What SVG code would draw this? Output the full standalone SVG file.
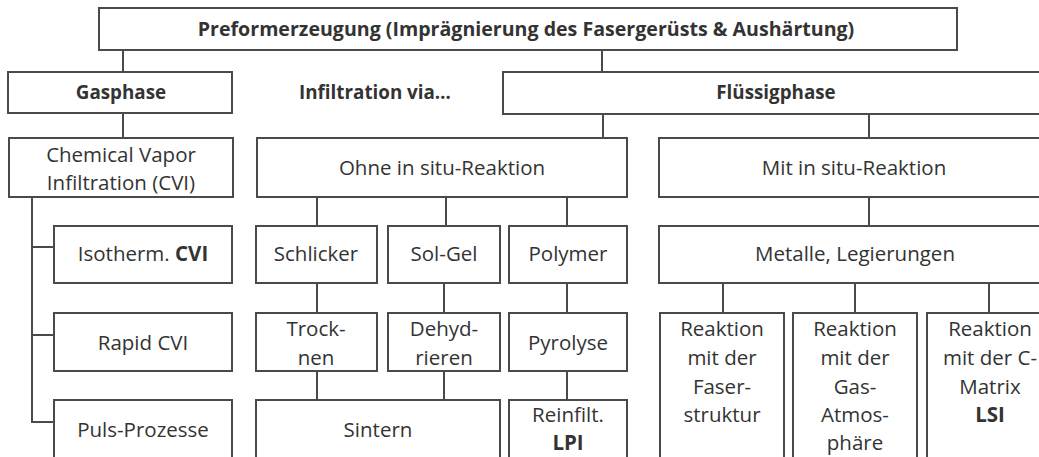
<svg xmlns="http://www.w3.org/2000/svg" width="1039" height="457" viewBox="0 0 1039 457">
<style>
rect{fill:#fff;stroke:#4a4a4a;stroke-width:2}
.c line,.c path{stroke:#4a4a4a;stroke-width:2;fill:none}
text{font-family:"Open Sans","Liberation Sans",sans-serif;font-size:20.5px;fill:#333;text-anchor:middle}
.b{font-weight:bold;font-size:18.8px}
.t{font-weight:bold;font-size:19.6px}
tspan.k{font-weight:bold}
</style>
<rect x="0" y="0" width="1039" height="457" style="stroke:none;fill:#fff"/>
<g class="c" id="connectors">
<line x1="123" y1="50" x2="123" y2="72"/>
<line x1="602" y1="50" x2="602" y2="72"/>
<line x1="123" y1="113" x2="123" y2="138"/>
<line x1="603" y1="114" x2="603" y2="138"/>
<line x1="869" y1="114" x2="869" y2="138"/>
<path d="M32 197V422H54M32 247H54M32 335H54"/>
<line x1="317" y1="197" x2="317" y2="226"/>
<line x1="446" y1="197" x2="446" y2="226"/>
<line x1="567" y1="197" x2="567" y2="226"/>
<line x1="317" y1="283" x2="317" y2="313"/>
<line x1="444" y1="283" x2="444" y2="313"/>
<line x1="567" y1="283" x2="567" y2="313"/>
<line x1="317" y1="371" x2="317" y2="400"/>
<line x1="444" y1="371" x2="444" y2="400"/>
<line x1="567" y1="371" x2="567" y2="400"/>
<line x1="869" y1="197" x2="869" y2="226"/>
<line x1="723" y1="283" x2="723" y2="313"/>
<line x1="855" y1="283" x2="855" y2="313"/>
<line x1="989" y1="283" x2="989" y2="313"/>
</g>
<g id="top"><rect x="99" y="8" width="858" height="42"/><text class="t" x="526" y="36">Preformerzeugung (Imprägnierung des Fasergerüsts &amp; Aushärtung)</text></g>
<g id="gasphase"><rect x="8" y="72" width="224" height="41"/><text class="b" x="121" y="99">Gasphase</text></g>
<g id="infiltration"><text class="b" x="375" y="99">Infiltration via…</text></g>
<g id="fluessigphase"><rect x="503" y="72" width="546" height="42"/><text class="b" x="776" y="99">Flüssigphase</text></g>
<g id="cvi"><rect x="9" y="138" width="224" height="59"/><text x="121" y="162">Chemical Vapor</text><text x="121" y="190">Infiltration (CVI)</text></g>
<g id="ohne"><rect x="257" y="138" width="370" height="59"/><text x="442" y="175">Ohne in situ-Reaktion</text></g>
<g id="mit"><rect x="659" y="138" width="390" height="59"/><text x="854" y="175">Mit in situ-Reaktion</text></g>
<g id="isotherm"><rect x="54" y="226" width="178" height="57"/><text x="143" y="261">Isotherm. <tspan class="k">CVI</tspan></text></g>
<g id="rapid"><rect x="54" y="313" width="178" height="58"/><text x="143" y="350">Rapid CVI</text></g>
<g id="puls"><rect x="54" y="400" width="178" height="70"/><text x="143" y="437">Puls-Prozesse</text></g>
<g id="schlicker"><rect x="256" y="226" width="121" height="57"/><text x="316" y="261">Schlicker</text></g>
<g id="solgel"><rect x="388" y="226" width="112" height="57"/><text x="444" y="261">Sol-Gel</text></g>
<g id="polymer"><rect x="509" y="226" width="118" height="57"/><text x="568" y="261">Polymer</text></g>
<g id="trocknen"><rect x="256" y="313" width="121" height="58"/><text x="316" y="336">Trock-</text><text x="316" y="365">nen</text></g>
<g id="dehydrieren"><rect x="388" y="313" width="112" height="58"/><text x="444" y="336">Dehyd-</text><text x="444" y="365">rieren</text></g>
<g id="pyrolyse"><rect x="509" y="313" width="118" height="58"/><text x="568" y="350">Pyrolyse</text></g>
<g id="sintern"><rect x="256" y="400" width="244" height="70"/><text x="378" y="437">Sintern</text></g>
<g id="reinfilt"><rect x="509" y="400" width="118" height="70"/><text x="568" y="422">Reinfilt.</text><text x="568" y="450" class="b" style="font-size:20.5px">LPI</text></g>
<g id="metalle"><rect x="659" y="226" width="390" height="57"/><text x="855" y="261">Metalle, Legierungen</text></g>
<g id="r1"><rect x="660" y="313" width="124" height="157"/><text x="722" y="336">Reaktion</text><text x="722" y="365">mit der</text><text x="722" y="394">Faser-</text><text x="722" y="422">struktur</text></g>
<g id="r2"><rect x="793" y="313" width="124" height="157"/><text x="855" y="336">Reaktion</text><text x="855" y="365">mit der</text><text x="855" y="394">Gas-</text><text x="855" y="422">Atmos-</text><text x="855" y="450">phäre</text></g>
<g id="r3"><rect x="927" y="313" width="124" height="157"/><text x="990" y="336">Reaktion</text><text x="990" y="365">mit der C-</text><text x="990" y="394">Matrix</text><text x="990" y="422" class="b" style="font-size:20.5px">LSI</text></g>
</svg>
